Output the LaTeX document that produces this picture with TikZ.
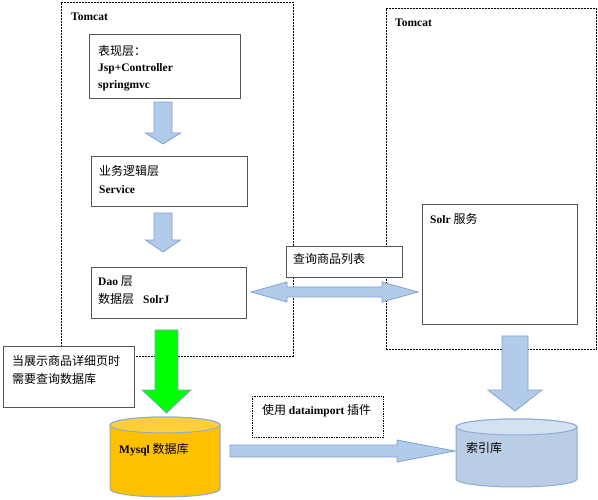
\documentclass[tikz,border=0pt]{standalone}
\usepackage{fontspec}
\setmainfont{Liberation Serif}
\newfontfamily\cjk{Noto Sans CJK SC}
\definecolor{arrfill}{HTML}{B3CBEA}
\definecolor{arrline}{HTML}{7FA3D1}
\definecolor{boxline}{HTML}{555555}
\definecolor{mysqlbody}{HTML}{FFC000}
\definecolor{mysqltop}{HTML}{FFCF3A}
\definecolor{idxbody}{HTML}{B9CDE5}
\definecolor{idxtop}{HTML}{D3E1F1}
\definecolor{cylline}{HTML}{8CACD6}
\definecolor{greenarr}{HTML}{00FF00}
\newcommand\myvarrow[7]{% style, cx, top, head start, tip, shaft half, head half
  \draw[#1] (#2-#6,#3) -- (#2+#6,#3) -- (#2+#6,#4) -- (#2+#7,#4) -- (#2,#5)
    -- (#2-#7,#4) -- (#2-#6,#4) -- cycle;}
\newcommand\zh[1]{{\cjk\mdseries\fontsize{12}{14}\selectfont #1}}
\begin{document}
\begin{tikzpicture}[x=1pt,y=-1pt,
  tomcat/.style={draw=black, line width=0.8pt, dash pattern=on 2pt off 1pt, anchor=north west, inner sep=0pt},
  layer/.style={draw=boxline, line width=0.7pt, fill=white, anchor=north west, inner sep=0pt},
  dotbox/.style={draw=black, line width=0.8pt, dash pattern=on 1pt off 0.7pt, fill=white, anchor=north west, inner sep=0pt},
  lbl/.style={anchor=base west, inner sep=0pt, font=\fontsize{11.5}{13}\selectfont\bfseries},
  clbl/.style={anchor=base west, inner sep=0pt, font=\fontsize{12}{14}\selectfont\cjk},
  blk/.style={fill=arrfill, draw=arrline, line width=0.8pt, line join=miter},
  cylb/.style={draw=cylline, line width=1pt},
]
\useasboundingbox (0,0) rectangle (598,500);
\fill[white] (0,0) rectangle (598,500);

% Tomcat containers
\node[tomcat, minimum width=232, minimum height=354] (tc1) at (61,2) {};
\node[tomcat, minimum width=210, minimum height=341] (tc2) at (386,8) {};
\node[lbl] (tc1l) at (71,20.5) {Tomcat};
\node[lbl] (tc2l) at (395,27) {Tomcat};

% layers
\node[layer, minimum width=151, minimum height=64] (pres) at (89,34) {};
\node[clbl] (p1) at (98,55.5) {表现层：};
\node[lbl] (p2) at (98,72) {Jsp+Controller};
\node[lbl] (p3) at (98,88.5) {springmvc};

\node[layer, minimum width=156, minimum height=50] (svc) at (91,156) {};
\node[clbl] (s1) at (99,176) {业务逻辑层};
\node[lbl] (s2) at (99,194) {Service};

\node[layer, minimum width=155, minimum height=51] (dao) at (91,267) {};
\node[lbl] (d1) at (98,286) {Dao \zh{层}};
\node[clbl] (d2) at (98,304) {数据层};
\node[lbl] (d3) at (143,304) {SolrJ};

\node[layer, minimum width=155, minimum height=120] (solr) at (422,204) {};
\node[lbl] (so) at (430,224) {Solr \zh{服务}};

% vertical arrows
\myvarrow{blk}{163}{102}{133}{144}{9}{17.5}
\myvarrow{blk}{163}{213}{240}{252}{9}{17.5}
\myvarrow{blk, fill=greenarr}{166.5}{330}{390}{413}{11.5}{24.5}
\myvarrow{blk}{515}{336}{390}{411}{13}{27}

% double arrow
\draw[blk] (251,292) -- (287,282) -- (287,287) -- (382,287) -- (382,282) -- (418,292)
  -- (382,302) -- (382,297) -- (287,297) -- (287,302) -- cycle;

% query label
\node[layer, minimum width=116, minimum height=31] (qry) at (286,246) {};
\node[clbl] (ql) at (293,264) {查询商品列表};

% note
\node[layer, minimum width=131, minimum height=61] (note) at (3,346) {};
\node[clbl] (n1) at (12,365) {当展示商品详细页时};
\node[clbl] (n2) at (12,383) {需要查询数据库};

% dataimport
\node[dotbox, minimum width=131, minimum height=41] (di) at (252,396) {};
\node[clbl] (dil) at (262,414) {使用 {\rmfamily\bfseries\fontsize{11.5}{13}\selectfont dataimport} 插件};

% right arrow
\draw[blk] (230,445) -- (397,445) -- (397,440) -- (455,451) -- (397,462) -- (397,457) -- (230,457) -- cycle;

% Mysql cylinder
\draw[cylb, fill=mysqlbody] (110,425) -- (110,489) arc (180:360:55pt and 8pt) -- (220,425) arc (0:180:55pt and 8pt) -- cycle;
\draw[cylb, fill=mysqltop] (165,425) ellipse [x radius=55pt, y radius=8pt];
\node[lbl] (my) at (119,453) {Mysql \zh{数据库}};

% index cylinder
\draw[cylb, fill=idxbody] (456,427) -- (456,479) arc (180:360:60.5pt and 8pt) -- (577,427) arc (0:180:60.5pt and 8pt) -- cycle;
\draw[cylb, fill=idxtop] (516.5,427) ellipse [x radius=60.5pt, y radius=8pt];
\node[clbl] (idx) at (466,452) {索引库};
\end{tikzpicture}
\end{document}
